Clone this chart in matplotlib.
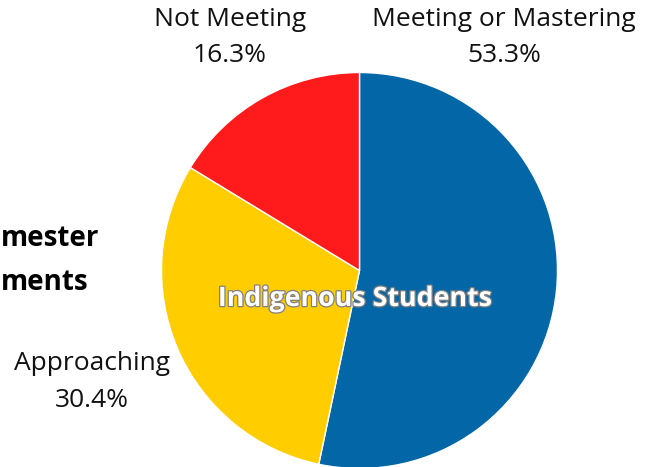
import matplotlib
matplotlib.use("Agg")
import matplotlib.pyplot as plt
import matplotlib.patheffects as pe

plt.rcParams["font.family"] = ["Open Sans", "DejaVu Sans"]

# data, clockwise from 12 o'clock
categories = ["Meeting or Mastering", "Approaching", "Not Meeting"]
shares = [53.3, 30.4, 16.3]
colors = ["#0366A6", "#FFCD00", "#FF1A1C"]
center_label = "Indigenous Students"
# only the tail of the side title is visible in the reference
title_lines = ["mester", "ments"]

W, H = 653, 467
fig = plt.figure(figsize=(W / 100, H / 100), dpi=100)
ax = fig.add_axes([0, 0, 1, 1])

cx, cy, r = 359.5, H - 270.5, 198
ax.pie(
    shares, colors=colors, startangle=90, counterclock=False,
    center=(cx, cy), radius=r,
    wedgeprops=dict(edgecolor="white", linewidth=1),
)
ax.set_xlim(0, W)
ax.set_ylim(0, H)
ax.set_aspect("equal")
ax.axis("off")

# outer labels (pixel positions from top-left)
label_pos = {
    "Meeting or Mastering": (504, 19),
    "Approaching": (92, 364),
    "Not Meeting": (230, 19),
}
for cat, val in zip(categories, shares):
    x, y = label_pos[cat]
    ax.text(x, H - y, cat, ha="center", va="center", fontsize=19, color="#111111")
    ax.text(x, H - y - 36.5, f"{val:.1f}%", ha="center", va="center", fontsize=19, color="#111111")

ax.text(
    355, H - 299, center_label, ha="center", va="center",
    fontsize=19.3, fontweight="bold", color="white",
    path_effects=[pe.withStroke(linewidth=1.8, foreground="#808080")],
)

ax.text(1, H - 238, title_lines[0], ha="left", va="center", fontsize=20, fontweight="bold", color="black")
ax.text(1, H - 282, title_lines[1], ha="left", va="center", fontsize=20, fontweight="bold", color="black")

fig.savefig("out.png", dpi=100)
